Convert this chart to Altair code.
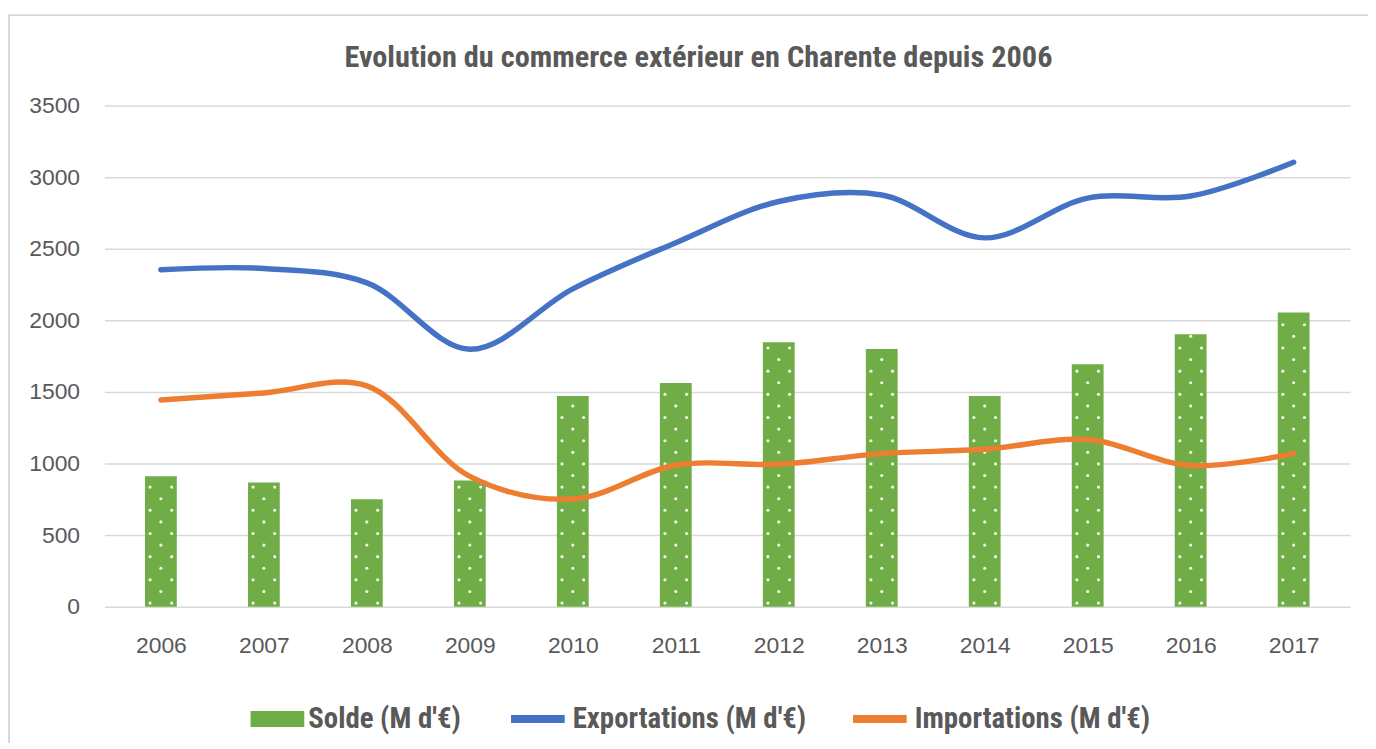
import altair as alt
import pandas as pd

# ---- data ----
years = [2006, 2007, 2008, 2009, 2010, 2011, 2012, 2013, 2014, 2015, 2016, 2017]
solde = [910, 868, 750, 882, 1472, 1562, 1847, 1800, 1472, 1694, 1903, 2055]
exportations = [2354, 2362, 2262, 1798, 2220, 2542, 2830, 2875, 2576, 2854, 2868, 3104]
importations = [1444, 1493, 1542, 910, 752, 988, 995, 1069, 1099, 1167, 986, 1069]
y_ticks = [0, 500, 1000, 1500, 2000, 2500, 3000, 3500]

S = "Solde (M d'€)"
E = "Exportations (M d'€)"
I = "Importations (M d'€)"

GREEN = "#70AD47"
BLUE = "#4472C4"
ORANGE = "#ED7D31"
TXT = "#595959"
GRID = "#D9D9D9"
NARROW = "Liberation Sans Narrow, Roboto Condensed, Arial Narrow, sans-serif"
REG = "Liberation Sans, Arial, sans-serif"

bars_df = pd.DataFrame({"Year": years, "Valeur": solde, "Serie": [S] * len(years)})
lines_df = pd.DataFrame({
    "Year": years + years,
    "Valeur": exportations + importations,
    "Serie": [E] * len(years) + [I] * len(years),
})

xscale = alt.Scale(domain=[2005.5, 2017.5], nice=False, zero=False)
yscale = alt.Scale(domain=[0, 3500], nice=False)

x_axis = alt.Axis(values=years, format="d", title=None, grid=False, ticks=False,
                  domain=False, labelPadding=28, labelFontSize=23, labelColor=TXT,
                  labelFont=REG)
y_axis = alt.Axis(values=y_ticks, format="d", title=None, ticks=False, domain=False,
                  labelPadding=25, labelFontSize=23, labelColor=TXT, labelFont=REG,
                  grid=True, gridColor=GRID, gridWidth=1.5)

LEG_FONT = 29

bars = alt.Chart(bars_df).mark_bar(size=32).encode(
    x=alt.X("Year:Q", scale=xscale, axis=x_axis),
    y=alt.Y("Valeur:Q", scale=yscale, axis=y_axis),
    fill=alt.Fill("Serie:N", scale=alt.Scale(domain=[S], range=[GREEN]),
                  legend=alt.Legend(orient="none", legendX=147, legendY=590,
                                    title=None, symbolType="M-1,-0.3H1V0.3H-1Z",
                                    symbolSize=2916, symbolStrokeWidth=0,
                                    labelFont=NARROW, labelFontSize=LEG_FONT,
                                    labelFontWeight="bold", labelColor=TXT,
                                    labelOffset=4, padding=0, labelLimit=400)),
)

# white dotted pattern inside the bars
dots = alt.Chart(bars_df).transform_calculate(
    v="sequence(25, datum.Valeur - 12, 81)"
).transform_flatten(["v"]).transform_calculate(
    off="(round((datum.v - 25) / 81) % 2 == 0) ? [-0.105, 0.105] : [0]"
).transform_flatten(["off"]).transform_calculate(
    dx="datum.Year + datum.off"
).mark_circle(size=10, color="white", opacity=0.9).encode(
    x=alt.X("dx:Q", scale=xscale, axis=x_axis),
    y=alt.Y("v:Q", scale=yscale, axis=y_axis),
)

lines = alt.Chart(lines_df).mark_line(
    interpolate="catmull-rom", strokeWidth=5.5, strokeCap="round"
).encode(
    x=alt.X("Year:Q", scale=xscale, axis=x_axis),
    y=alt.Y("Valeur:Q", scale=yscale, axis=y_axis),
    stroke=alt.Stroke("Serie:N", scale=alt.Scale(domain=[E, I], range=[BLUE, ORANGE]),
                      legend=alt.Legend(orient="none", legendX=405, legendY=586,
                                        title=None, direction="horizontal", columns=2,
                                        symbolType="stroke", symbolSize=2916,
                                        symbolStrokeWidth=8, columnPadding=31,
                                        labelFont=NARROW, labelFontSize=LEG_FONT,
                                        labelFontWeight="bold", labelColor=TXT,
                                        labelOffset=4, padding=0, labelLimit=400)),
)

frame = alt.Chart(pd.DataFrame({"a": [0]})).mark_rect(
    filled=False, stroke=GRID, strokeWidth=2
).encode(
    x=alt.value(-96), x2=alt.value(1300), y=alt.value(-91), y2=alt.value(700)
)

chart = alt.layer(bars, dots, lines, frame).properties(
    width=1253,
    height=504,
    padding={"left": 97, "top": 96, "right": 18, "bottom": 135},
    autosize=alt.AutoSizeParams(type="none"),
    title=alt.TitleParams(text="Evolution du commerce extérieur en Charente depuis 2006",
                          font=NARROW, fontSize=30.5, fontWeight="bold", color=TXT,
                          anchor="middle", frame="group", dx=-29, offset=-60),
    background="white",
).configure_view(stroke=None)

chart.save("out.html", embed_options={"renderer": "svg", "actions": False})
